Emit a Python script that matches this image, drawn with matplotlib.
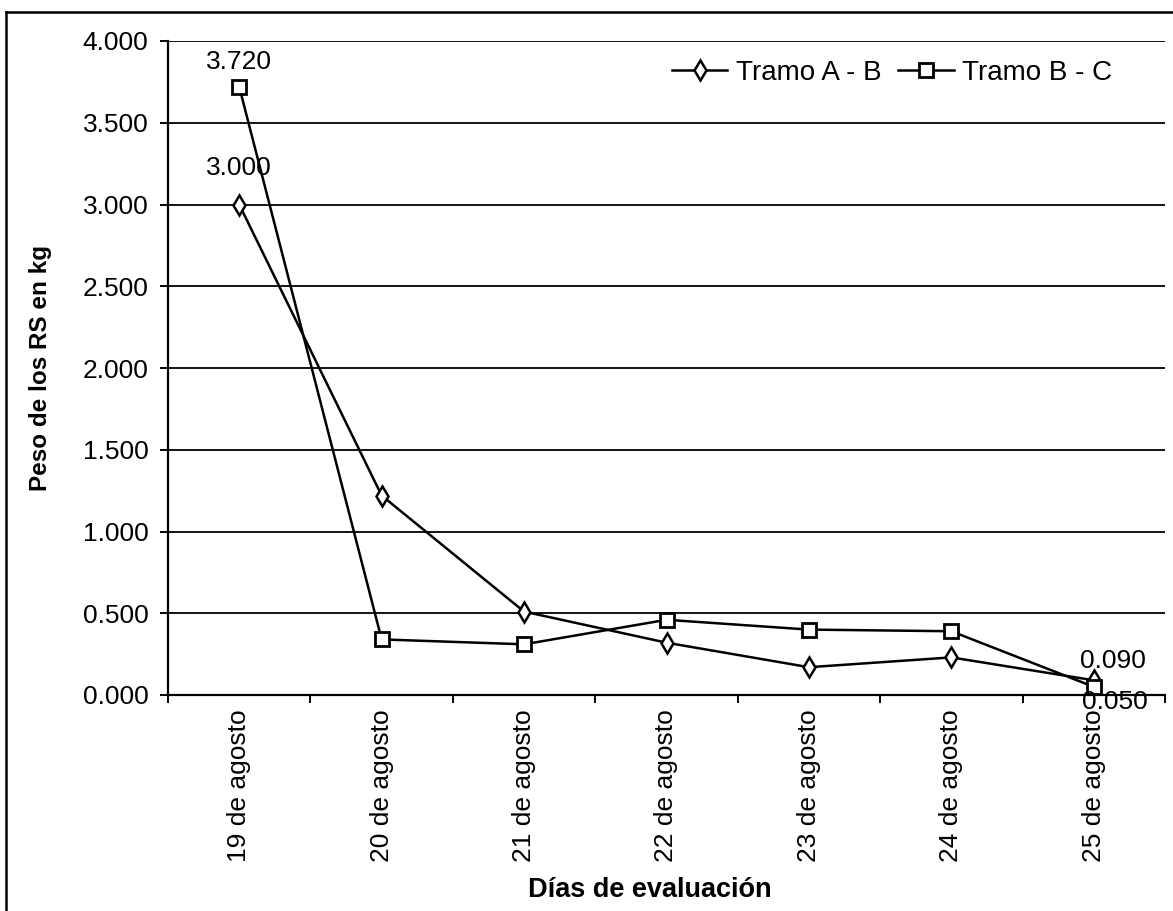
import matplotlib
matplotlib.use("Agg")
import matplotlib.pyplot as plt
from matplotlib.lines import Line2D
from matplotlib.ticker import FuncFormatter

plt.rcParams['font.family'] = ['Liberation Sans', 'DejaVu Sans']

# data
dias = ["19 de agosto", "20 de agosto", "21 de agosto", "22 de agosto",
        "23 de agosto", "24 de agosto", "25 de agosto"]
tramo_ab = [3.000, 1.220, 0.510, 0.320, 0.170, 0.230, 0.090]
tramo_bc = [3.720, 0.340, 0.310, 0.460, 0.400, 0.390, 0.050]

W, H = 1173, 911
fig = plt.figure(figsize=(W / 100, H / 100), dpi=100)
ax = fig.add_axes([168 / W, (H - 695) / H, (1165 - 168) / W, (695 - 41) / H])

x = list(range(len(dias)))
ax.plot(x, tramo_ab, color='black', lw=1.8, marker='d', ms=10,
        mfc='white', mec='black', mew=1.8, label="Tramo A - B", zorder=3)
ax.plot(x, tramo_bc, color='black', lw=1.8, marker='s', ms=10,
        mfc='white', mec='black', mew=2.0, label="Tramo B - C", zorder=3)

# data labels
lab_kw = dict(textcoords='offset points', ha='center', va='center', fontsize=19)
ax.annotate("3.720", (0, tramo_bc[0]), xytext=(0, 18), **lab_kw)
ax.annotate("3.000", (0, tramo_ab[0]), xytext=(0, 26), **lab_kw)
ax.annotate("0.090", (6, tramo_ab[6]), xytext=(14, 14), **lab_kw)
ax.annotate("0.050", (6, tramo_bc[6]), xytext=(15, -11), **lab_kw)

ax.set_xlim(-0.5, len(dias) - 0.5)
ax.set_ylim(0, 4)
ax.set_yticks([i * 0.5 for i in range(9)])
ax.yaxis.set_major_formatter(FuncFormatter(lambda v, p: f"{v:.3f}"))
ax.grid(axis='y', color='black', lw=1.3)
ax.set_axisbelow(True)

ax.set_xticks(x)
ax.set_xticklabels(dias, rotation=90, fontsize=19)
ax.set_xticks([i - 0.5 for i in range(len(dias) + 1)], minor=True)
ax.tick_params(axis='x', which='major', length=0, pad=10)
ax.tick_params(axis='x', which='minor', length=6, width=1.4, direction='out')
ax.tick_params(axis='y', labelsize=19, length=6, width=1.4, pad=8)

for s in ['top', 'right']:
    ax.spines[s].set_visible(False)
ax.spines['left'].set_linewidth(1.6)
ax.spines['bottom'].set_linewidth(1.6)

ax.set_ylabel("Peso de los RS en kg", fontsize=17.5, fontweight='bold', labelpad=22)
fig.text(650 / W, 1 - 890 / H, "Días de evaluación", fontsize=19.5,
         fontweight='bold', ha='center', va='center')

fig.legend(loc='center right', bbox_to_anchor=(1126 / W, 1 - 73 / H),
           ncol=2, frameon=False, fontsize=20, handlelength=2.0,
           handletextpad=0.3, columnspacing=0.6, borderpad=0)

# outer frame (cut off on the right and bottom)
fig.add_artist(Line2D([6 / W, 6 / W], [0, 1 - 12 / H], color='black', lw=1.8))
fig.add_artist(Line2D([6 / W, 1], [1 - 12 / H, 1 - 12 / H], color='black', lw=1.8))

fig.savefig("out.png", dpi=100)
